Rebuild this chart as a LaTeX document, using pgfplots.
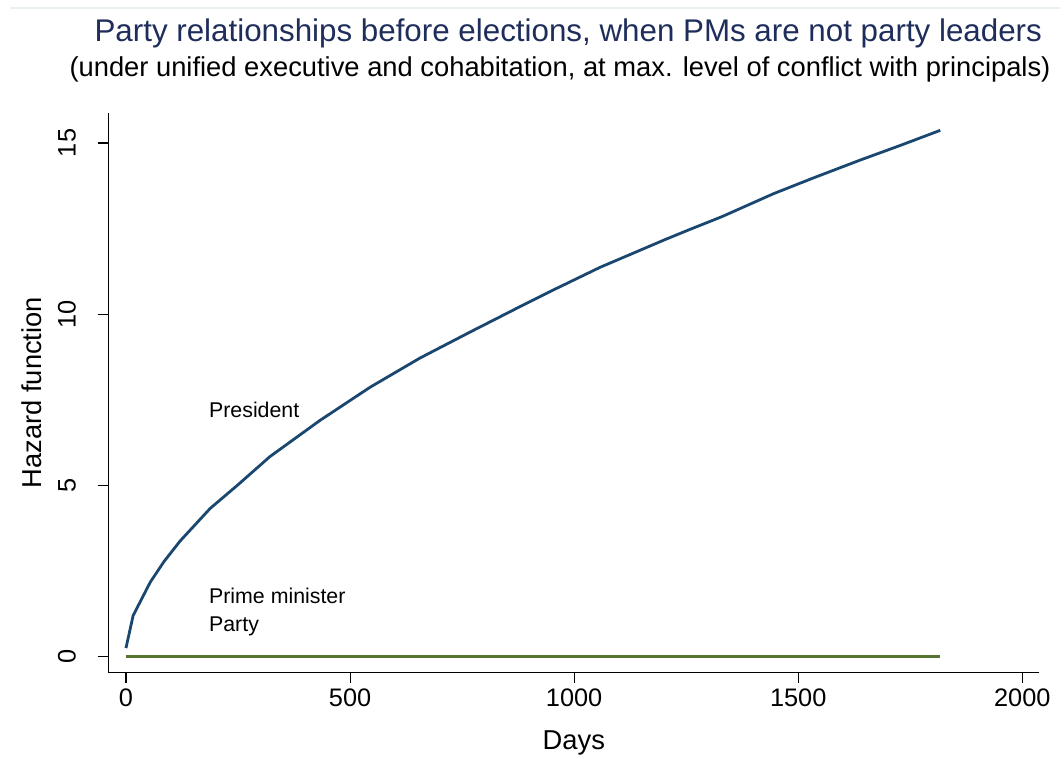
\documentclass[border=0pt]{standalone}
\usepackage{pgfplots}
\pgfplotsset{compat=1.18}
\usepackage{fontspec}
\setmainfont{Liberation Sans}
\usetikzlibrary{calc}

\definecolor{titlenavy}{RGB}{30,45,90}
\definecolor{statanavy}{RGB}{26,71,111}
\definecolor{statamaroon}{RGB}{144,53,59}
\definecolor{forestgreen}{RGB}{85,117,47}
\definecolor{edgegray}{RGB}{232,240,240}

\begin{document}
\begin{tikzpicture}
\begin{axis}[
name=ax,
at={(0,0)}, anchor=south west,
scale only axis,
width=698.3pt, height=419.3pt,
xmin=-39.5, xmax=2038,
ymin=-0.456, ymax=15.87,
axis x line*=bottom, axis y line*=left,
axis line style={line width=0.8pt, -},
xtick={0,500,1000,1500,2000},
ytick={0,5,10,15},
tick align=outside,
major tick length=8pt,
tick style={line width=0.8pt, black},
/pgf/number format/assume math mode=true,
/pgf/number format/1000 sep={},
ticklabel style={font=\fontsize{19}{21}\selectfont},
yticklabel style={rotate=90, anchor=south, yshift=12.8pt},
xticklabel style={yshift=-1pt},
xlabel={Days}, ylabel={Hazard function},
label style={font=\fontsize{20.5}{23}\selectfont},
xlabel style={yshift=-11pt},
ylabel style={yshift=5pt},
clip=false,
]
\addplot [line width=2.1pt, statanavy] table {
0 0.25
16 1.20
54 2.17
85 2.78
121 3.38
188 4.33
250 5.02
321 5.84
433 6.90
545 7.87
656 8.72
768 9.48
879 10.22
946 10.66
1058 11.37
1203 12.18
1259 12.48
1330 12.85
1445 13.52
1534 13.98
1638 14.50
1728 14.93
1817 15.37
};
\addplot [line width=2.1pt, statamaroon] table {
0 0
1817 0
};
\addplot [line width=2.1pt, forestgreen] table {
0 0
1817 0
};
\node [anchor=base west, inner sep=0pt, font=\fontsize{16}{18}\selectfont] at (axis cs:185,6.97) {President};
\node [anchor=base west, inner sep=0pt, font=\fontsize{16}{18}\selectfont] at (axis cs:185,1.54) {Prime minister};
\node [anchor=base west, inner sep=0pt, font=\fontsize{16}{18}\selectfont] at (axis cs:185,0.72) {Party};
\end{axis}
\node [anchor=base, text=titlenavy, font=\fontsize{23.5}{26}\selectfont, inner sep=0pt]
  at ($(ax.south west)+(345pt,472.7pt)$) {Party relationships before elections, when PMs are not party leaders};
\node [anchor=base, font=\fontsize{20.5}{23}\selectfont, inner sep=0pt]
  at ($(ax.south west)+(338.8pt,446.5pt)$) {(under unified executive and cohabitation, at max. level of conflict with principals)};
\draw [edgegray, line width=0.8pt] ($(ax.south west)+(-73.7pt,498.2pt)$) -- ++(787.5pt,0);
\pgfresetboundingbox
\path [use as bounding box] ($(ax.south west)+(-81.2pt,-74.8pt)$) rectangle ++(795pt,579pt);
\end{tikzpicture}
\end{document}
